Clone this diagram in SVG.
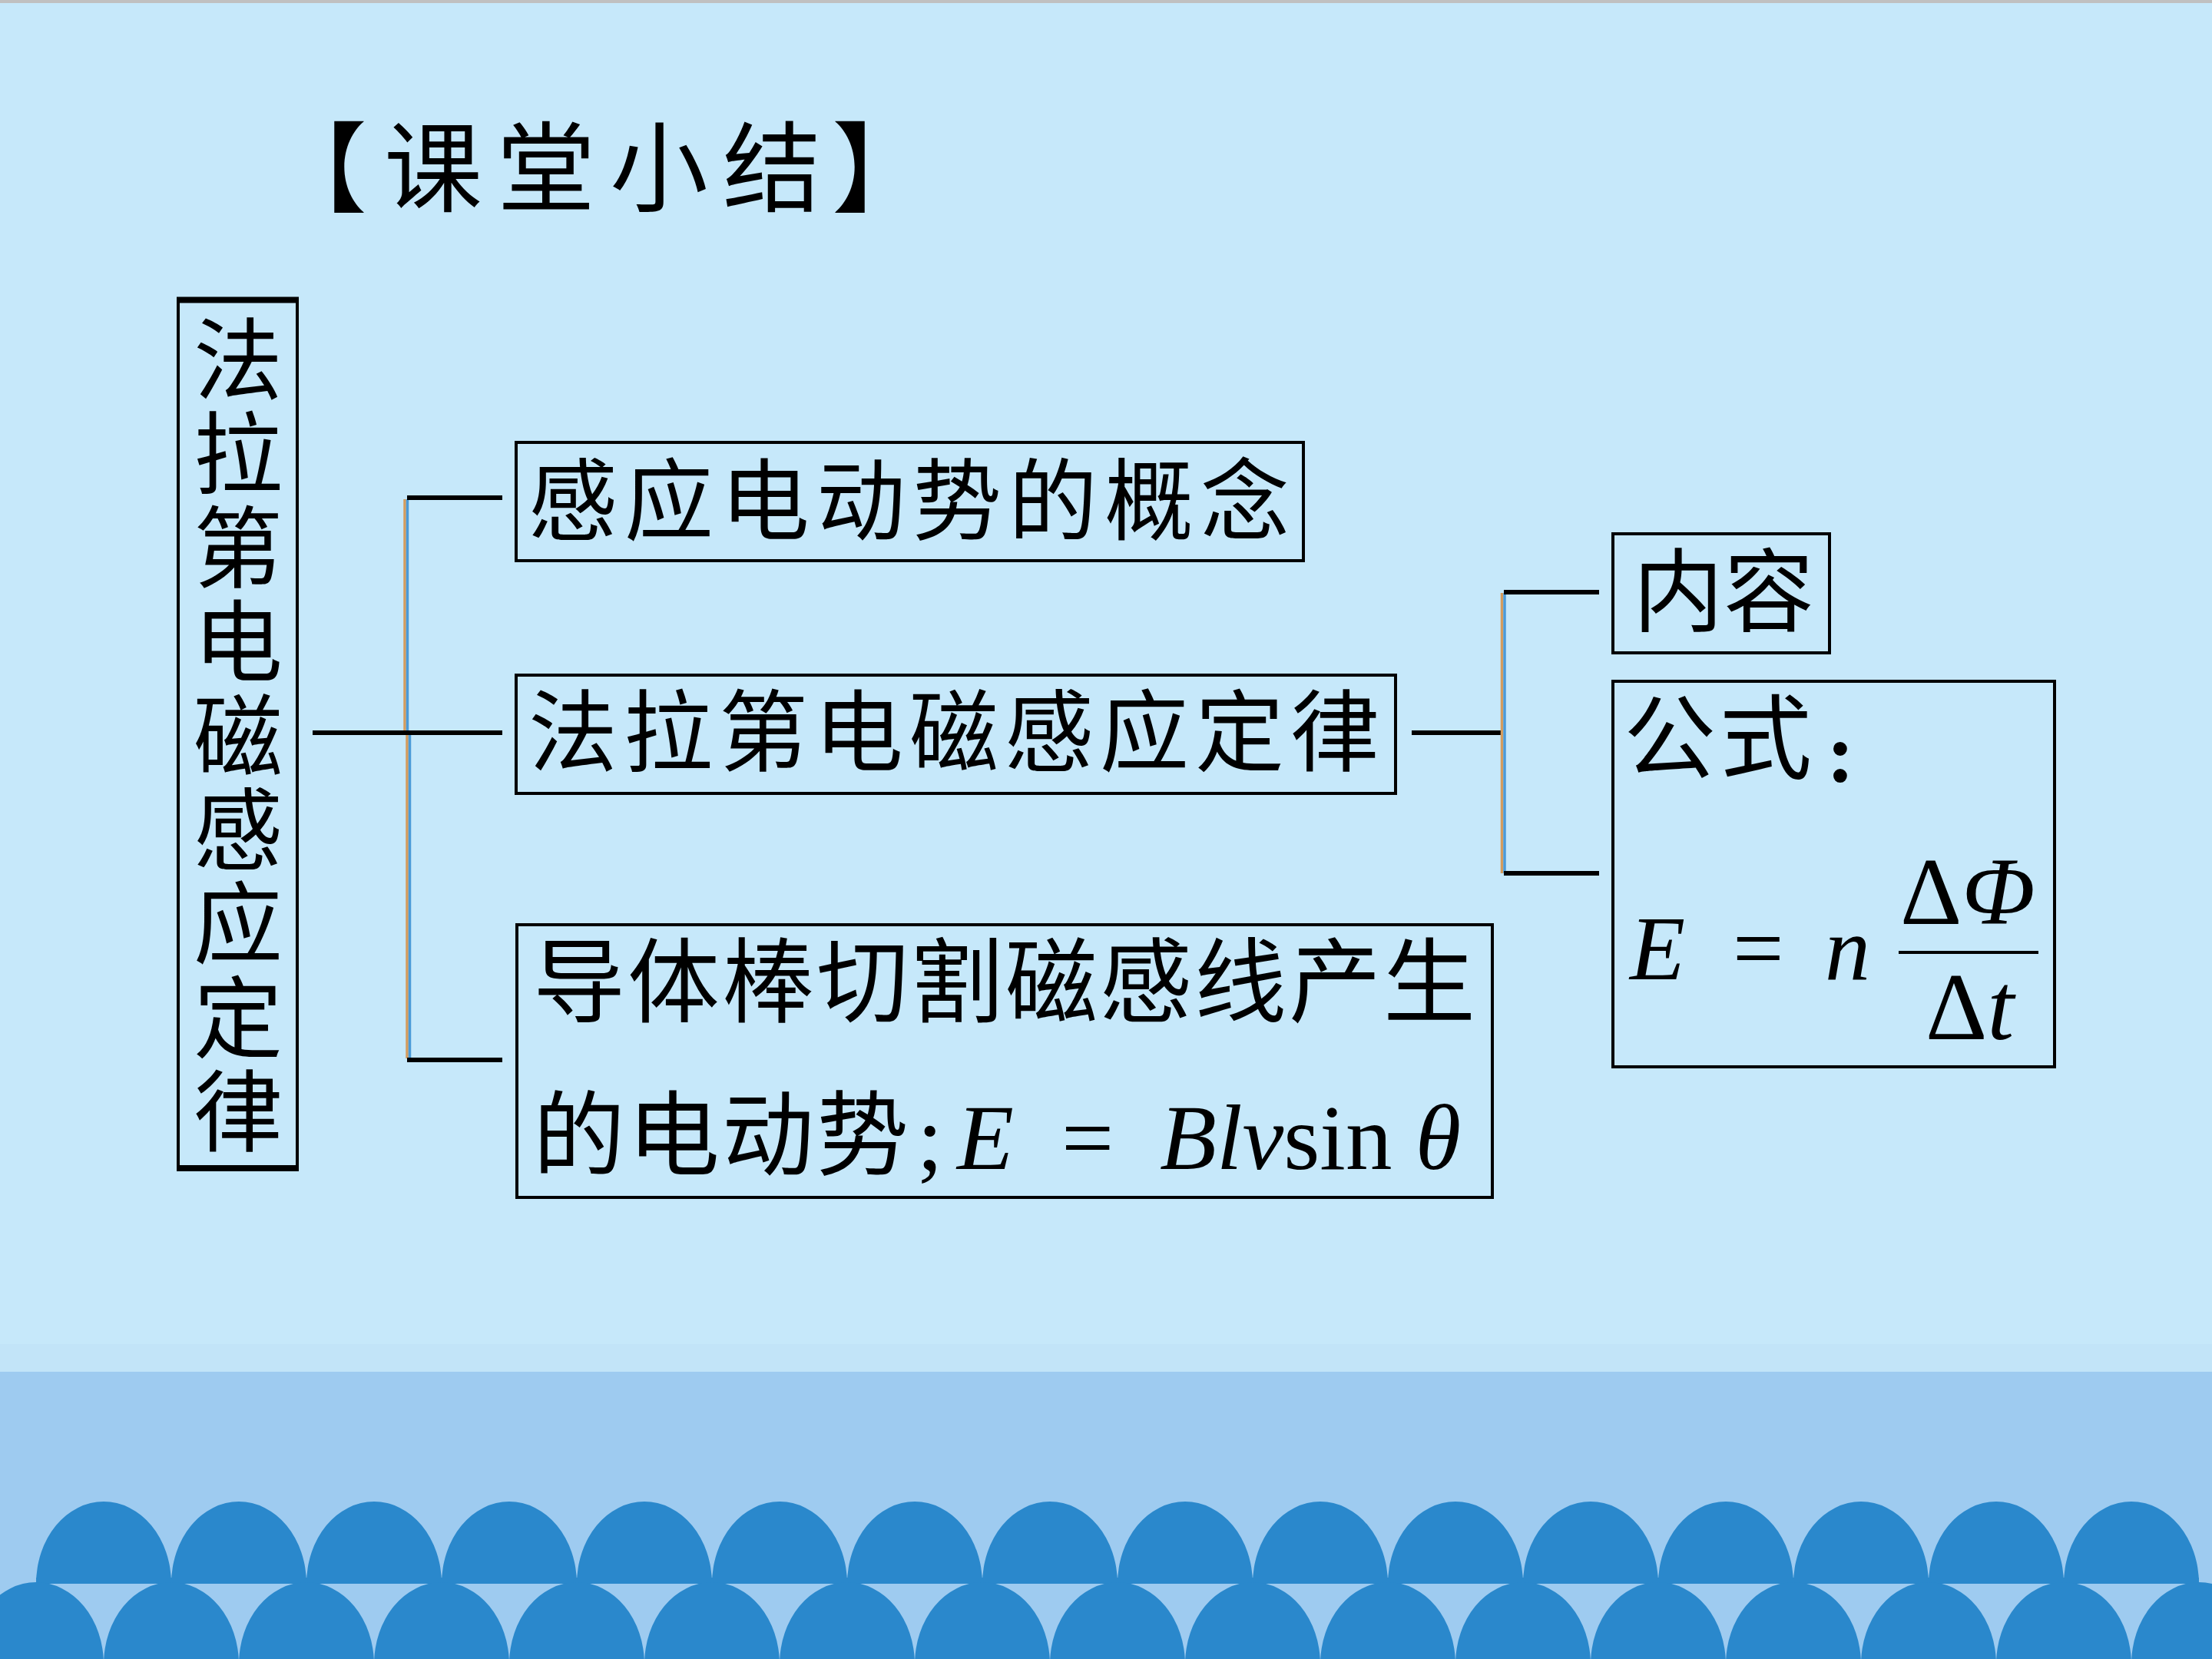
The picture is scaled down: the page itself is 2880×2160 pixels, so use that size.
<svg xmlns="http://www.w3.org/2000/svg" width="2880" height="2160" viewBox="0 0 2880 2160">
<style>
.cjk{font-family:"Noto Sans CJK SC","Noto Sans CJK JP",sans-serif;fill:#000}
.ser{font-family:"Liberation Serif","Times New Roman",serif;fill:#000}
.it{font-style:italic}
.box{fill:none;stroke:#000;stroke-width:4}
.hl{stroke:#000;stroke-width:6;fill:none}
.vt{stroke:#D49C5E;stroke-width:3.5;fill:none}
.vb{stroke:#4A9AD8;stroke-width:3.5;fill:none}
</style>
<rect x="0" y="0" width="2880" height="2160" fill="#C6E8FA"/>
<rect x="0" y="0" width="2880" height="4" fill="#C0C0C0"/>
<rect x="0" y="1750" width="2880" height="36" fill="#C2E4F8"/>
<rect x="0" y="1786" width="2880" height="374" fill="#9ECBF0"/>
<g id="scallops" fill="#2A88CC">
<path d="M47 2062A88 107 0 0 1 223 2062ZM223 2062A88 107 0 0 1 399 2062ZM399 2062A88 107 0 0 1 575 2062ZM575 2062A88 107 0 0 1 751 2062ZM751 2062A88 107 0 0 1 927 2062ZM927 2062A88 107 0 0 1 1103 2062ZM1103 2062A88 107 0 0 1 1279 2062ZM1279 2062A88 107 0 0 1 1455 2062ZM1455 2062A88 107 0 0 1 1631 2062ZM1631 2062A88 107 0 0 1 1807 2062ZM1807 2062A88 107 0 0 1 1983 2062ZM1983 2062A88 107 0 0 1 2159 2062ZM2159 2062A88 107 0 0 1 2335 2062ZM2335 2062A88 107 0 0 1 2511 2062ZM2511 2062A88 107 0 0 1 2687 2062ZM2687 2062A88 107 0 0 1 2863 2062Z"/>
<rect x="47" y="2054" width="2816" height="8"/>
<path d="M-41 2167A88 107 0 0 1 135 2167ZM135 2167A88 107 0 0 1 311 2167ZM311 2167A88 107 0 0 1 487 2167ZM487 2167A88 107 0 0 1 663 2167ZM663 2167A88 107 0 0 1 839 2167ZM839 2167A88 107 0 0 1 1015 2167ZM1015 2167A88 107 0 0 1 1191 2167ZM1191 2167A88 107 0 0 1 1367 2167ZM1367 2167A88 107 0 0 1 1543 2167ZM1543 2167A88 107 0 0 1 1719 2167ZM1719 2167A88 107 0 0 1 1895 2167ZM1895 2167A88 107 0 0 1 2071 2167ZM2071 2167A88 107 0 0 1 2247 2167ZM2247 2167A88 107 0 0 1 2423 2167ZM2423 2167A88 107 0 0 1 2599 2167ZM2599 2167A88 107 0 0 1 2775 2167ZM2775 2167A88 107 0 0 1 2951 2167Z"/>
</g>
<text id="title" class="cjk" font-size="128" y="266"><tspan x="350">【</tspan><tspan x="500">课</tspan><tspan x="647">堂</tspan><tspan x="794">小</tspan><tspan x="941">结</tspan><tspan x="1083">】</tspan></text>
<g id="connectors">
<line class="vt" x1="527" y1="650" x2="527" y2="954"/>
<line class="vb" x1="530.5" y1="650" x2="530.5" y2="954"/>
<line class="vt" x1="530" y1="954" x2="530" y2="1378"/>
<line class="vb" x1="533.5" y1="954" x2="533.5" y2="1378"/>
<line class="hl" x1="530" y1="648" x2="654" y2="648"/>
<line class="hl" x1="407" y1="954" x2="654" y2="954"/>
<line class="hl" x1="530" y1="1380" x2="654" y2="1380"/>
<line class="hl" x1="1838" y1="954" x2="1957" y2="954"/>
<line class="vt" x1="1955.5" y1="772" x2="1955.5" y2="1137"/>
<line class="vb" x1="1959" y1="772" x2="1959" y2="1137"/>
<line class="hl" x1="1958" y1="771" x2="2082" y2="771"/>
<line class="hl" x1="1958" y1="1137" x2="2082" y2="1137"/>
</g>
<g id="root">
<rect class="box" x="232" y="391" width="155" height="1130"/>
<line x1="230" y1="390.5" x2="389" y2="390.5" stroke="#000" stroke-width="8"/>
<line x1="230" y1="1521" x2="389" y2="1521" stroke="#000" stroke-width="8"/>
<text class="cjk" font-size="116" text-anchor="middle" x="310 310 310 310 310 310 310 310 310" y="511 633.4 755.8 878.2 1000.6 1123 1245.4 1367.8 1490.2">法拉第电磁感应定律</text>
</g>
<g id="n-concept">
<rect class="box" x="672" y="576" width="1025" height="154"/>
<text class="cjk" font-size="116" x="688" y="694" letter-spacing="9">感应电动势的概念</text>
</g>
<g id="n-law">
<rect class="box" x="672" y="879" width="1145" height="154"/>
<text class="cjk" font-size="116" x="688" y="995" letter-spacing="8">法拉第电磁感应定律</text>
</g>
<g id="n-rod">
<rect class="box" x="673" y="1204" width="1270" height="355"/>
<text class="cjk" font-size="120" x="694" y="1322" letter-spacing="3">导体棒切割磁感线产生</text>
<text class="cjk" font-size="120" x="694" y="1521" letter-spacing="3">的电动势</text>
<text class="ser" font-size="121" x="1194" y="1522">;</text>
<text class="ser it" font-size="121" x="1246" y="1522">E</text>
<text class="ser" font-size="121" x="1382" y="1522">=</text>
<text class="ser" font-size="121" x="1510" y="1522"><tspan class="it">Blv</tspan>sin <tspan class="it">θ</tspan></text>
</g>
<g id="n-content">
<rect class="box" x="2100" y="695" width="282" height="155"/>
<text class="cjk" font-size="118" x="2126" y="813">内容</text>
</g>
<g id="n-formula">
<rect class="box" x="2100" y="887" width="575" height="502"/>
<text class="cjk" font-size="120" x="2114" y="1005" letter-spacing="5">公式</text>
<text class="ser" font-size="110" font-weight="bold" x="2378" y="1017">:</text>
<text class="ser it" font-size="118" x="2122" y="1275">E</text>
<text class="ser" font-size="118" x="2256" y="1275">=</text>
<text class="ser it" font-size="118" x="2376" y="1275">n</text>
<rect x="2472" y="1238" width="182" height="4" fill="#000"/>
<text class="ser" font-size="125" x="2474" y="1203">Δ<tspan class="it">Φ</tspan></text>
<text class="ser" font-size="125" x="2507" y="1353">Δ<tspan class="it">t</tspan></text>
</g>
</svg>
